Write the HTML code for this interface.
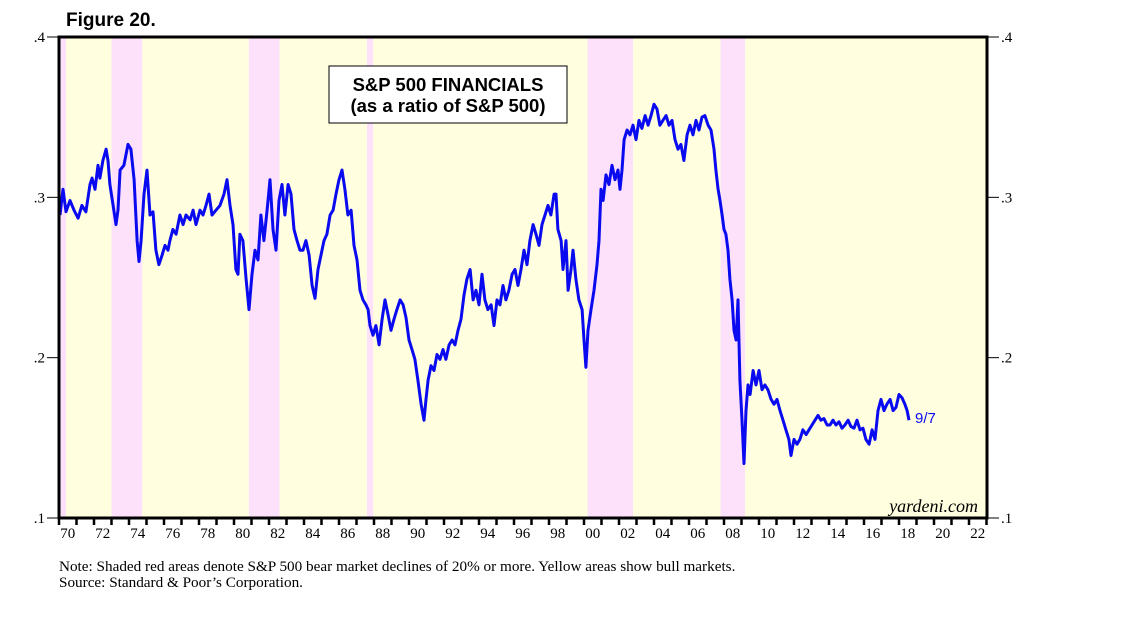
<!DOCTYPE html>
<html><head><meta charset="utf-8"><style>
body{margin:0;background:#fff;width:1138px;height:621px;overflow:hidden}
</style></head><body>
<svg width="1138" height="621" xmlns="http://www.w3.org/2000/svg">
<text x="66" y="26" font-family="Liberation Sans, sans-serif" font-weight="bold" font-size="19">Figure 20.</text>
<g id="bands"></g>
<g id="axes"></g>
<path id="line" fill="none" stroke="#0a0af0" stroke-width="3" stroke-linejoin="round"/>
<rect x="59" y="37" width="928" height="481" fill="none" stroke="#000" stroke-width="3"/>
<g>
<rect x="329" y="66" width="238" height="57" fill="#fff" stroke="#000" stroke-width="1"/>
<text x="448" y="91" text-anchor="middle" font-family="Liberation Sans, sans-serif" font-weight="bold" font-size="18.5">S&amp;P 500 FINANCIALS</text>
<text x="448" y="112" text-anchor="middle" font-family="Liberation Sans, sans-serif" font-weight="bold" font-size="18.5">(as a ratio of S&amp;P 500)</text>
</g>
<text x="915" y="423" fill="#0a0af0" font-family="Liberation Sans, sans-serif" font-size="15">9/7</text>
<text x="978" y="512" text-anchor="end" font-family="Liberation Serif, serif" font-style="italic" font-size="18">yardeni.com</text>
<text x="59" y="571" font-family="Liberation Serif, serif" font-size="15.2">Note: Shaded red areas denote S&amp;P 500 bear market declines of 20% or more. Yellow areas show bull markets.</text>
<text x="59" y="587" font-family="Liberation Serif, serif" font-size="15.2">Source: Standard &amp; Poor’s Corporation.</text>
</svg>
<script>
const bearStarts=[1970.0,1973.0,1980.85,1987.6,2000.2,2007.8];
const bearEnds=[1970.4,1974.75,1982.6,1987.95,2002.8,2009.2];
const yTicks=[0.1,0.2,0.3,0.4];
const yTickLabels=['.1','.2','.3','.4'];
const xLabelYears=[1970,1972,1974,1976,1978,1980,1982,1984,1986,1988,1990,1992,1994,1996,1998,2000,2002,2004,2006,2008,2010,2012,2014,2016,2018,2020,2022];
const xLabels=['70','72','74','76','78','80','82','84','86','88','90','92','94','96','98','00','02','04','06','08','10','12','14','16','18','20','22'];
const dates=[1970.06,1970.23,1970.40,1970.63,1970.86,1971.09,1971.31,1971.54,1971.77,1971.89,1972.06,1972.23,1972.34,1972.51,1972.69,1972.80,1972.91,1973.09,1973.26,1973.37,1973.49,1973.71,1973.94,1974.11,1974.29,1974.46,1974.57,1974.69,1974.86,1975.03,1975.20,1975.37,1975.54,1975.71,1975.89,1976.06,1976.23,1976.34,1976.51,1976.69,1976.91,1977.09,1977.26,1977.49,1977.66,1977.83,1978.06,1978.23,1978.40,1978.57,1978.74,1978.97,1979.20,1979.43,1979.60,1979.77,1979.94,1980.11,1980.23,1980.34,1980.51,1980.69,1980.86,1981.03,1981.20,1981.37,1981.54,1981.71,1981.89,1982.06,1982.23,1982.40,1982.57,1982.74,1982.91,1983.09,1983.26,1983.43,1983.60,1983.77,1983.94,1984.11,1984.29,1984.46,1984.63,1984.80,1984.97,1985.14,1985.31,1985.49,1985.66,1985.83,1986.00,1986.17,1986.34,1986.51,1986.69,1986.86,1987.03,1987.20,1987.37,1987.54,1987.66,1987.77,1987.94,1988.11,1988.29,1988.46,1988.63,1988.80,1988.97,1989.14,1989.31,1989.49,1989.66,1989.83,1990.00,1990.17,1990.34,1990.51,1990.69,1990.86,1990.97,1991.09,1991.26,1991.43,1991.60,1991.77,1991.94,1992.11,1992.29,1992.46,1992.63,1992.80,1992.97,1993.14,1993.31,1993.49,1993.66,1993.83,1994.00,1994.17,1994.34,1994.51,1994.69,1994.86,1995.03,1995.20,1995.37,1995.54,1995.71,1995.89,1996.06,1996.23,1996.40,1996.57,1996.74,1996.91,1997.09,1997.26,1997.43,1997.60,1997.77,1997.94,1998.11,1998.29,1998.40,1998.51,1998.69,1998.80,1998.97,1999.09,1999.26,1999.37,1999.54,1999.71,1999.89,2000.00,2000.11,2000.23,2000.40,2000.57,2000.74,2000.86,2000.97,2001.09,2001.26,2001.43,2001.60,2001.77,2001.94,2002.06,2002.17,2002.29,2002.46,2002.63,2002.80,2002.97,2003.14,2003.31,2003.49,2003.66,2003.83,2004.00,2004.17,2004.34,2004.51,2004.69,2004.86,2005.03,2005.20,2005.37,2005.54,2005.71,2005.89,2006.06,2006.23,2006.40,2006.57,2006.74,2006.91,2007.09,2007.26,2007.43,2007.54,2007.66,2007.77,2007.89,2008.00,2008.11,2008.23,2008.34,2008.46,2008.57,2008.69,2008.80,2008.91,2009.03,2009.14,2009.26,2009.37,2009.49,2009.66,2009.83,2010.00,2010.17,2010.34,2010.51,2010.69,2010.86,2011.03,2011.20,2011.37,2011.54,2011.71,2011.83,2012.00,2012.17,2012.34,2012.51,2012.69,2012.86,2013.03,2013.20,2013.37,2013.54,2013.71,2013.89,2014.06,2014.23,2014.40,2014.57,2014.74,2014.91,2015.09,2015.26,2015.43,2015.60,2015.77,2015.94,2016.11,2016.29,2016.46,2016.63,2016.80,2016.97,2017.14,2017.31,2017.49,2017.66,2017.83,2018.00,2018.17,2018.34,2018.46,2018.57];
const ratio=[.289,.305,.291,.298,.292,.287,.295,.291,.308,.312,.305,.320,.312,.323,.330,.323,.308,.295,.283,.292,.317,.320,.333,.330,.311,.273,.260,.273,.302,.317,.289,.291,.267,.258,.264,.270,.267,.273,.280,.277,.289,.283,.289,.286,.292,.283,.292,.289,.295,.302,.289,.292,.295,.302,.311,.295,.283,.255,.252,.277,.273,.249,.230,.252,.267,.261,.289,.273,.292,.311,.280,.267,.298,.308,.289,.308,.302,.280,.273,.267,.267,.273,.264,.245,.237,.255,.264,.273,.277,.289,.292,.302,.311,.317,.305,.289,.292,.270,.261,.242,.236,.233,.230,.220,.214,.220,.208,.224,.236,.227,.217,.224,.230,.236,.233,.225,.211,.205,.199,.186,.171,.161,.174,.186,.195,.192,.202,.199,.205,.199,.208,.211,.208,.217,.224,.239,.249,.255,.236,.242,.233,.252,.236,.230,.233,.220,.236,.233,.245,.236,.242,.252,.255,.245,.255,.267,.258,.273,.283,.277,.270,.283,.289,.295,.289,.302,.302,.280,.273,.255,.273,.242,.255,.267,.249,.236,.230,.211,.194,.217,.230,.242,.258,.273,.305,.298,.314,.308,.320,.311,.317,.305,.317,.336,.342,.339,.345,.336,.348,.343,.351,.345,.351,.358,.355,.345,.348,.351,.345,.348,.336,.330,.333,.323,.339,.345,.339,.348,.342,.350,.351,.345,.342,.330,.317,.305,.298,.289,.280,.277,.267,.249,.236,.217,.211,.236,.186,.161,.134,.167,.183,.177,.192,.183,.192,.180,.183,.180,.174,.171,.174,.167,.161,.155,.149,.139,.149,.146,.149,.155,.152,.155,.158,.161,.164,.161,.162,.158,.158,.161,.158,.160,.156,.158,.161,.157,.156,.161,.155,.156,.149,.146,.155,.149,.167,.174,.167,.171,.174,.167,.169,.177,.175,.171,.167,.161];

const NS='http://www.w3.org/2000/svg';
const L=59,R=987,T=37,B=518;
const xs=y=>L+(y-1970)*17.5;
const ys=v=>B-(v-0.1)/0.3*(B-T);
function mk(tag,attrs,parent){const e=document.createElementNS(NS,tag);for(const k in attrs)e.setAttribute(k,attrs[k]);parent.appendChild(e);return e;}
const bands=document.getElementById('bands');
const bg=mk('rect',{x:L,y:T,width:R-L,height:B-T,fill:'#ffffe0'},bands);


bearStarts.forEach((s,i)=>{
  const r=mk('rect',{x:xs(s),y:T,width:xs(bearEnds[i])-xs(s),height:B-T,fill:'#fde0fa'},bands);
  
  
});
const ax=document.getElementById('axes');
yTicks.forEach((v,i)=>{
  const y=ys(v);
  mk('line',{x1:L-12,x2:L,y1:y,y2:y,stroke:'#000','stroke-width':1},ax);
  mk('line',{x1:R,x2:R+12,y1:y,y2:y,stroke:'#000','stroke-width':1},ax);
  const t1=mk('text',{x:L-14,y:y+5,'text-anchor':'end','font-family':'Liberation Serif, serif','font-size':15},ax);
  t1.textContent=yTickLabels[i];
  
  
  const t2=mk('text',{x:R+14,y:y+5,'font-family':'Liberation Serif, serif','font-size':15},ax);
  t2.textContent=yTickLabels[i];
  
  
});
for(let yr=1970;yr<=2023;yr++){
  mk('line',{x1:xs(yr),x2:xs(yr),y1:B,y2:B+7,stroke:'#000','stroke-width':2.5},ax);
}
xLabelYears.forEach((yr,i)=>{
  const t=mk('text',{x:xs(yr+0.5),y:B+20,'text-anchor':'middle','font-family':'Liberation Serif, serif','font-size':15},ax);
  t.textContent=xLabels[i];
  
  
});
let d='';
dates.forEach((t,i)=>{d+=(i?'L':'M')+xs(t).toFixed(1)+' '+ys(ratio[i]).toFixed(1);});
document.getElementById('line').setAttribute('d',d);
</script>
</body></html>
